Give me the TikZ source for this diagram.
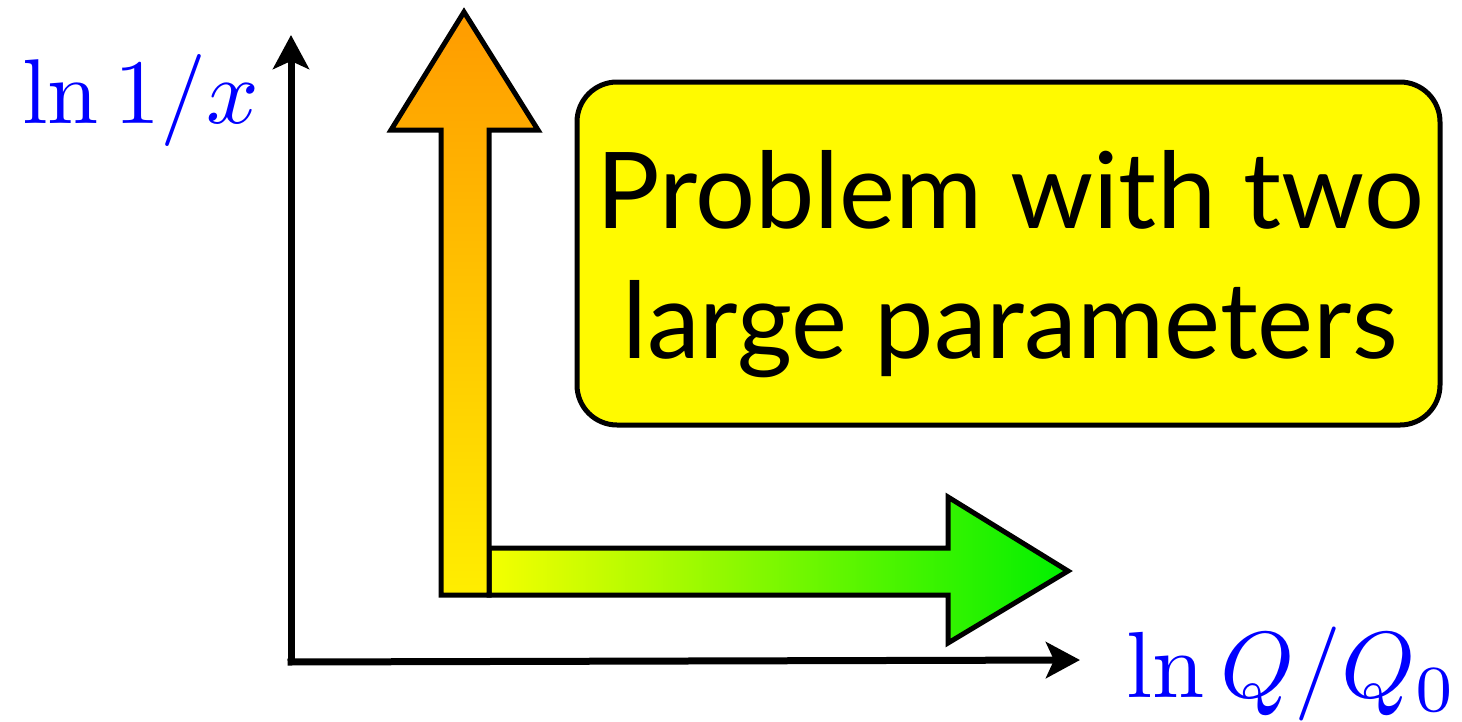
\documentclass[tikz,border=0pt]{standalone}
\usepackage{graphicx}
\usepackage{fontspec}
\newfontfamily\boxfont{Lato}
\usetikzlibrary{arrows.meta}
\definecolor{axblue}{RGB}{0,0,255}
\definecolor{boxyellow}{RGB}{255,250,0}
\definecolor{arrorange}{RGB}{255,155,0}
\definecolor{arryellow}{RGB}{255,238,0}
\definecolor{arrgreenl}{RGB}{245,255,0}
\definecolor{arrgreenm}{RGB}{120,250,0}
\definecolor{arrgreenr}{RGB}{0,240,0}
\tikzset{
  axis/.style={line width=7pt, -{Stealth[length=34pt,width=36pt,inset=8pt]}},
  bigarrow/.style={draw=black, line width=5pt, line join=miter},
  mathlabel/.style={text=axblue, inner sep=0pt, font=\fontsize{10}{12}\selectfont},
  boxtext/.style={inner sep=0pt, font=\boxfont\fontsize{106}{120}\selectfont},
}
\begin{document}
\begin{tikzpicture}[x=1pt,y=-1pt]
\useasboundingbox (0,0) rectangle (1462,721);
% axes
\coordinate (ytip) at (291,35);
\coordinate (xtip) at (1080,660);
\draw[axis] (291,665) -- (ytip);
\draw[axis] (287.5,662) -- (xtip);
\node[mathlabel, anchor=base west] (ylab) at (22,123) {\scalebox{9.2}{$\ln 1/x$}};
\node[mathlabel, anchor=base west] (xlab) at (1126,697) {\scalebox{9.4}{$\ln Q/Q_0$}};
% green arrow
\path[bigarrow, left color=arrgreenl, middle color=arrgreenm, right color=arrgreenr]
  (489,548) -- (948,548) -- (948,497) -- (1068,571) -- (948,643) -- (948,595) -- (489,595) -- cycle;
% orange arrow
\path[bigarrow, top color=arrorange, bottom color=arryellow]
  (441,595) -- (441,130) -- (391,130) -- (464,12) -- (538,130) -- (489,130) -- (489,595) -- cycle;
% box
\node[draw=black, line width=5pt, fill=boxyellow, rounded corners=40pt,
      minimum width=863pt, minimum height=343pt, inner sep=0pt] (box) at (1008.5,253.5) {};
\node[boxtext, anchor=base] (l1) at (1010,228) {Problem with two};
\node[boxtext, anchor=base] (l2) at (1010,358) {large parameters};
\end{tikzpicture}
\end{document}
